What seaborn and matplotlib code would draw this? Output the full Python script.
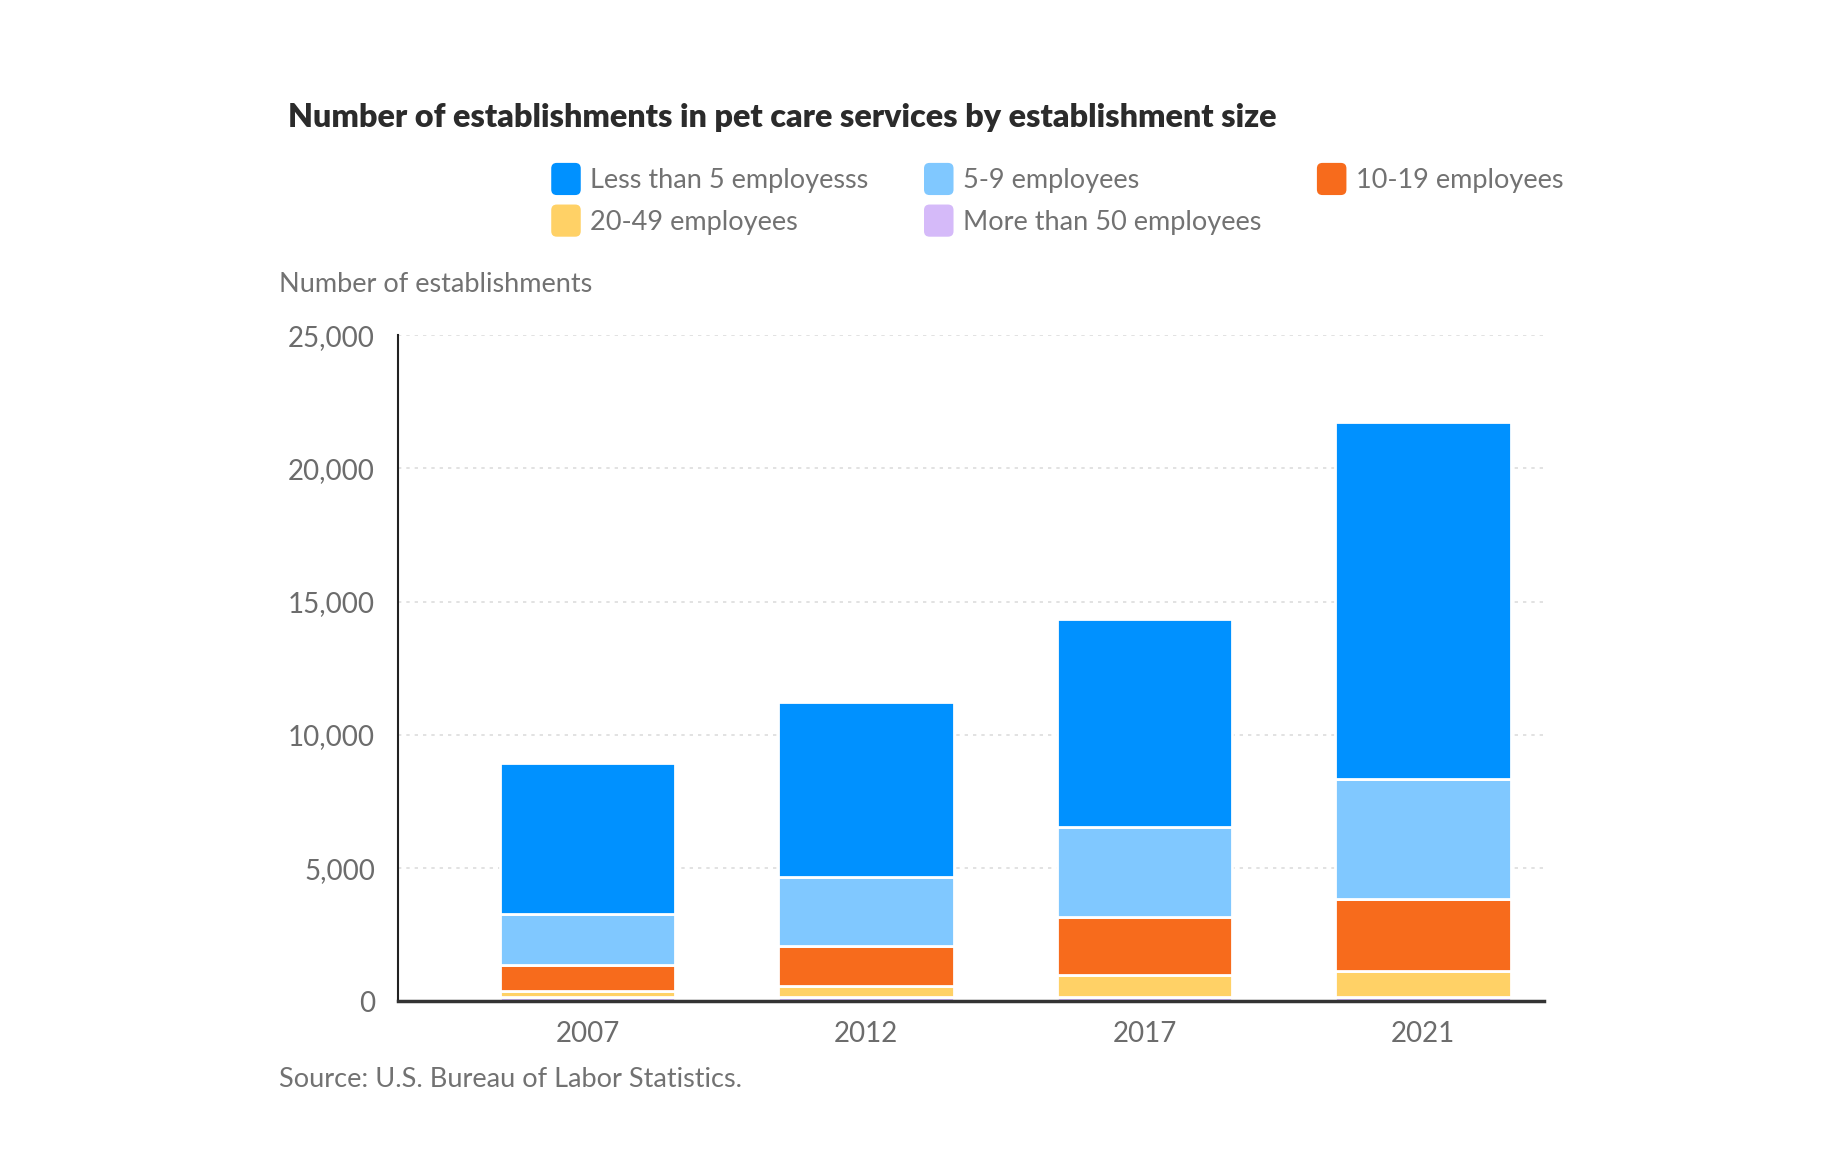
import numpy as np
import pandas as pd
import seaborn as sns
import matplotlib.pyplot as plt
from matplotlib.patches import Patch, FancyBboxPatch
from matplotlib.legend_handler import HandlerPatch

# datos
years = ["2007", "2012", "2017", "2021"]
series_names = ["Less than 5 employesss", "5-9 employees", "10-19 employees",
                "20-49 employees", "More than 50 employees"]
less_than_5 = [5700, 6550, 7800, 13400]
emp_5_9 = [1880, 2600, 3370, 4470]
emp_10_19 = [980, 1500, 2170, 2720]
emp_20_49 = [250, 430, 850, 990]
more_than_50 = [150, 150, 150, 150]
colors = ["#0091FF", "#80C8FF", "#F76B1C", "#FFD166", "#D5BAF9"]
yticks = [0, 5000, 10000, 15000, 20000, 25000]

sns.set_theme(style="white")
plt.rcParams['font.family'] = ['Lato', 'DejaVu Sans']


# cuadrito redondeado para la leyenda
class RoundHandler(HandlerPatch):
    def create_artists(self, legend, orig_handle, xdescent, ydescent,
                       width, height, fontsize, trans):
        p = FancyBboxPatch((-xdescent, -ydescent), width, height,
                           boxstyle="round,pad=0,rounding_size=4",
                           facecolor=orig_handle.get_facecolor(),
                           edgecolor="none", transform=trans)
        return [p]


df = pd.DataFrame({
    "year": years,
    series_names[0]: less_than_5,
    series_names[1]: emp_5_9,
    series_names[2]: emp_10_19,
    series_names[3]: emp_20_49,
    series_names[4]: more_than_50,
})

fig = plt.figure(figsize=(18.32, 11.76), dpi=100)
ax = fig.add_axes([0.2175, 0.1485, 0.6255, 0.5665])

# apilar desde abajo: >50, 20-49, 10-19, 5-9, <5
stack_order = [4, 3, 2, 1, 0]
bottom = np.zeros(len(years))
for i in stack_order:
    vals = df[series_names[i]].to_numpy(dtype=float)
    sns.barplot(x=df["year"], y=vals, bottom=bottom, color=colors[i],
                width=0.63, edgecolor="white", linewidth=2, saturation=1,
                ax=ax)
    bottom = bottom + vals

ax.set_xlim(-0.68, 3.436)
ax.set_ylim(0, 25000)
ax.set_yticks(yticks)
ax.set_yticklabels([f"{v:,}" for v in yticks])
ax.set_xlabel("")
ax.set_ylabel("")
ax.tick_params(axis="both", colors="#6c6c6c", labelsize=20, length=0)
ax.tick_params(axis="y", pad=17)
ax.tick_params(axis="x", pad=14)
for v in yticks[1:]:
    ax.axhline(v, color="#dddddd", linestyle=(0, (2, 3)), linewidth=1.2, zorder=0)

for s in ["top", "right"]:
    ax.spines[s].set_visible(False)
ax.spines["left"].set_color("#222222")
ax.spines["left"].set_linewidth(1.5)
ax.spines["bottom"].set_color("#333333")
ax.spines["bottom"].set_linewidth(2.5)

fig.text(0.157, 0.90, "Number of establishments in pet care services by establishment size",
         fontsize=23.2, fontweight="heavy", color="#2b2b2b", va="center")
fig.text(0.1525, 0.758, "Number of establishments", fontsize=19.5, color="#727272", va="center")
fig.text(0.1525, 0.082, "Source: U.S. Bureau of Labor Statistics.", fontsize=19.5,
         color="#727272", va="center")

# leyenda: ncol=3 se llena por columnas
leg_order = [0, 3, 1, 4, 2]
handles = [Patch(facecolor=colors[i], edgecolor="none") for i in leg_order]
labels = [series_names[i] for i in leg_order]
leg = fig.legend(handles, labels, ncol=3, loc="upper left",
                 bbox_to_anchor=(0.2935, 0.873), frameon=False, fontsize=19.5,
                 handlelength=1.09, handleheight=1.45, handletextpad=0.35,
                 columnspacing=2.05, labelspacing=0.35, borderpad=0,
                 handler_map={Patch: RoundHandler()})
for t in leg.get_texts():
    t.set_color("#727272")

fig.savefig("out.png", dpi=100, facecolor="white")
